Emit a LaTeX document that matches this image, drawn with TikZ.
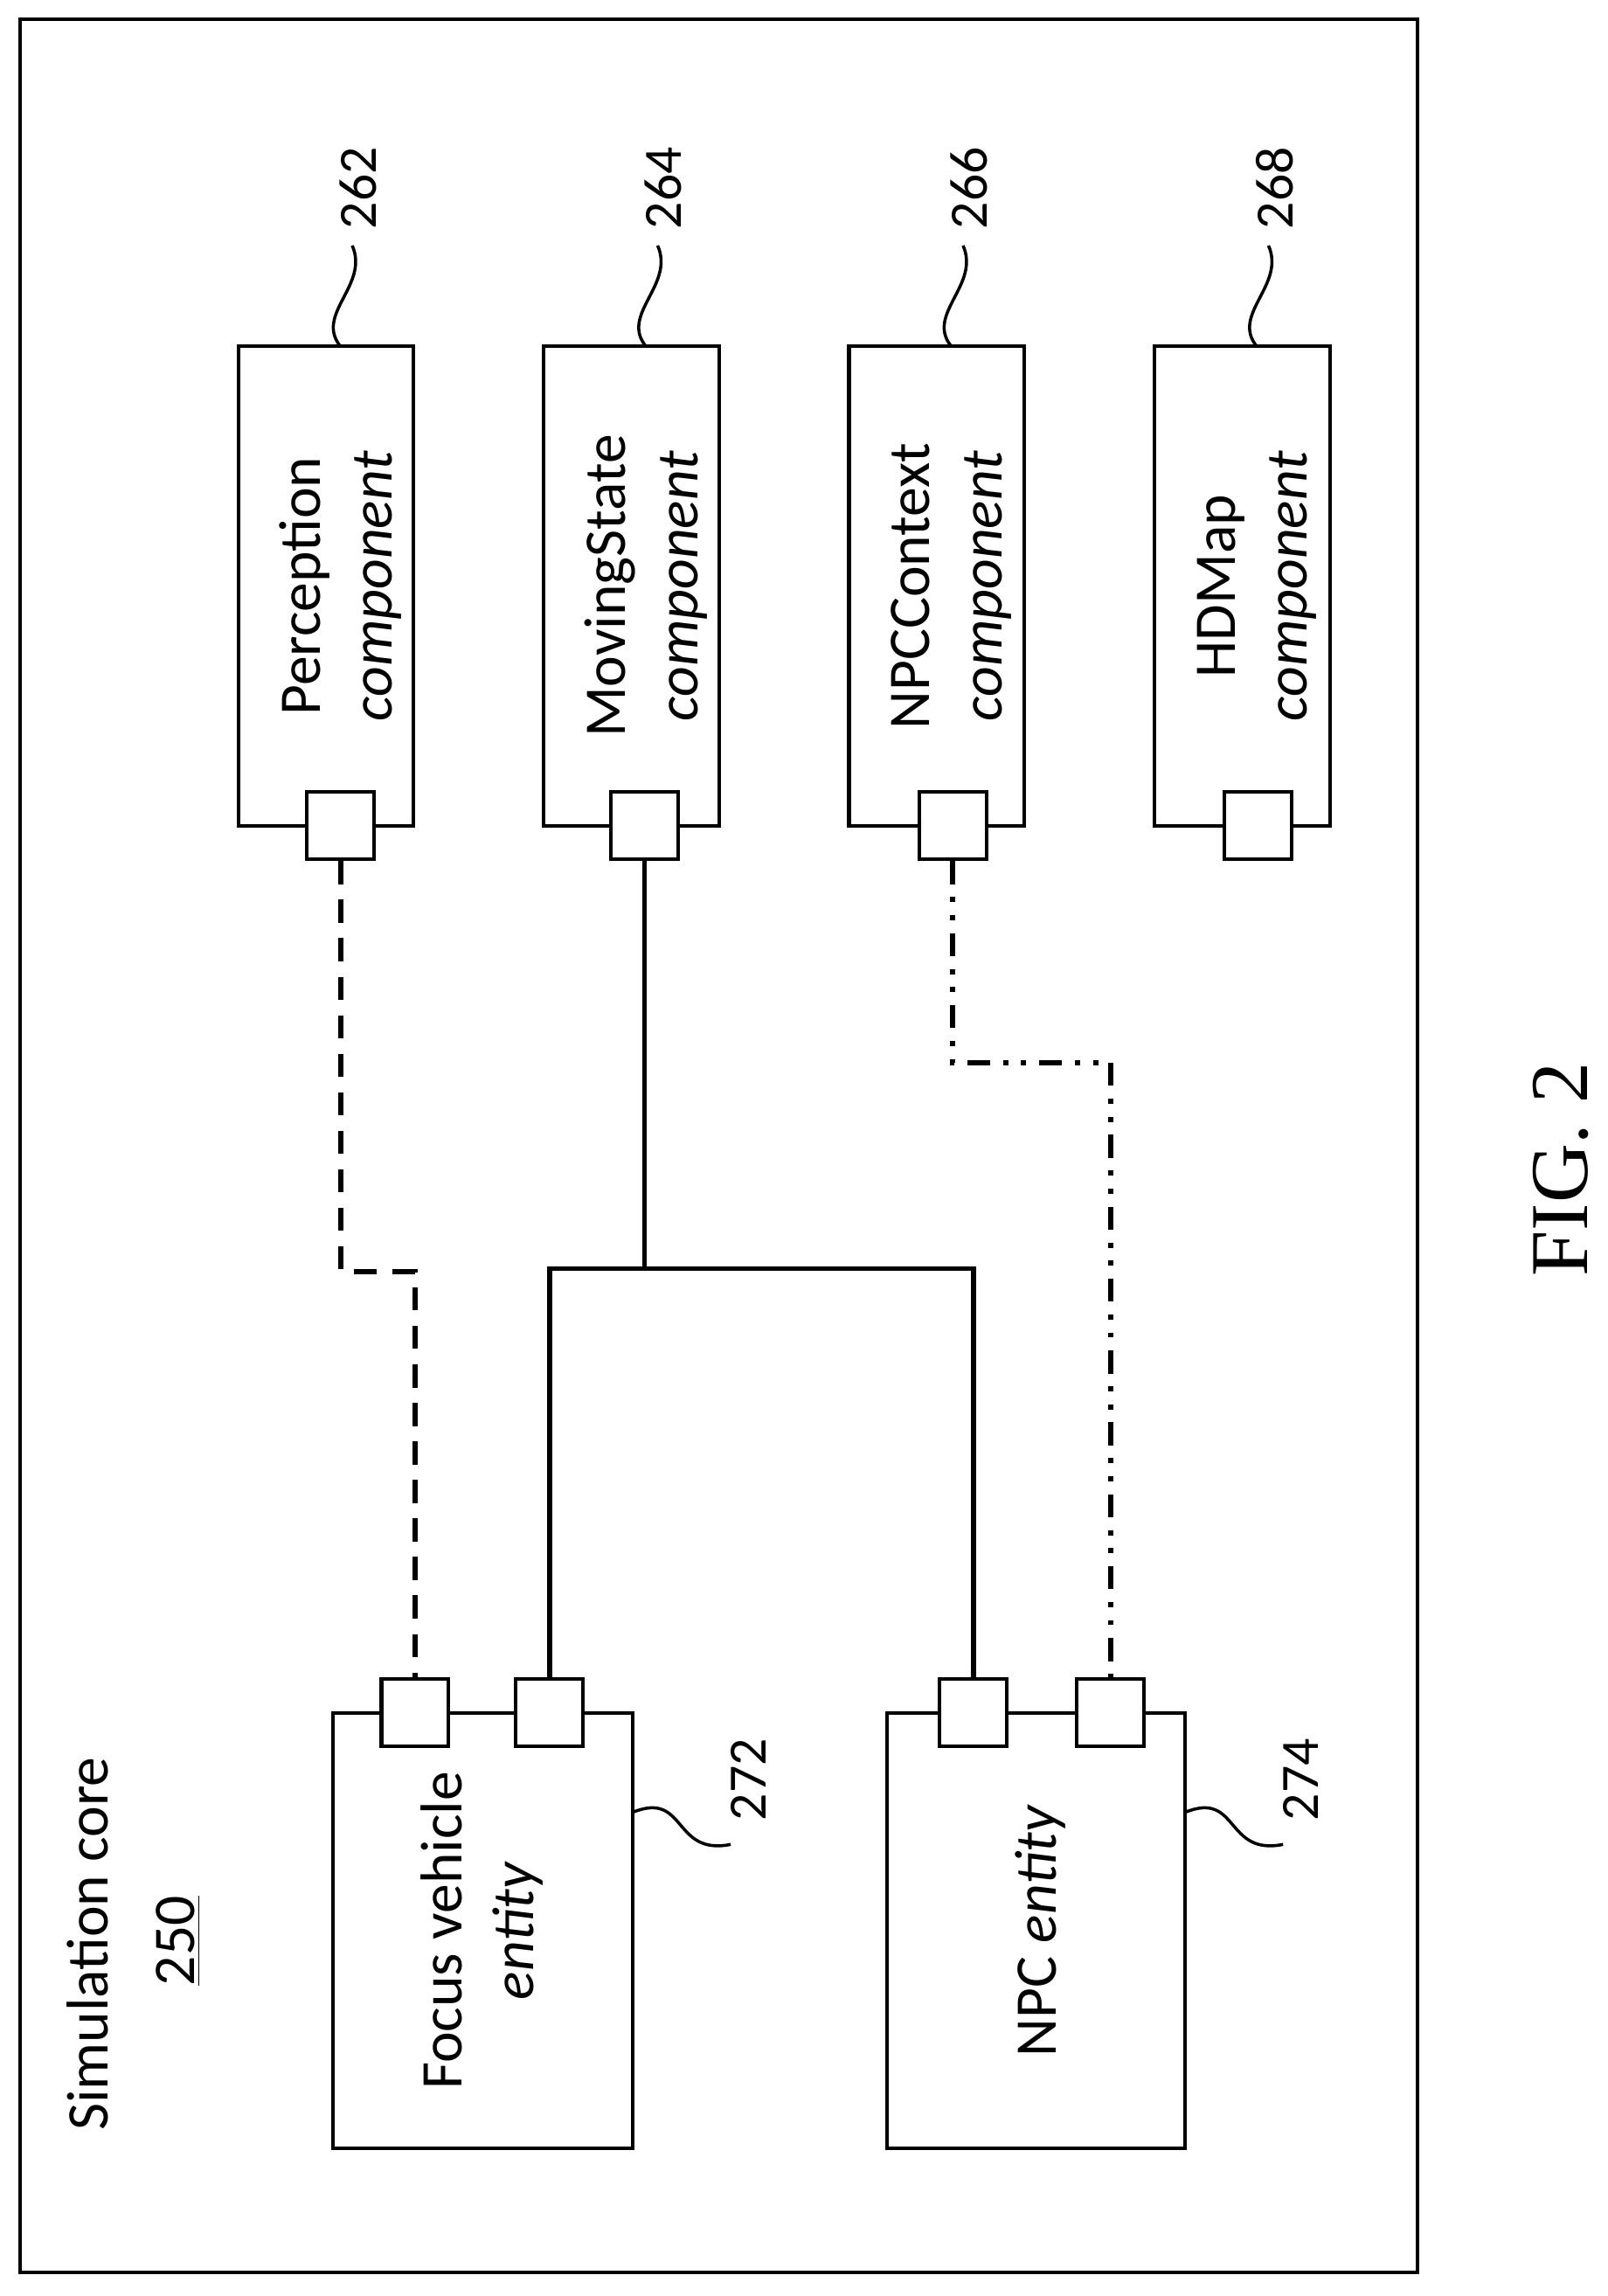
\documentclass[tikz,border=0pt]{standalone}
\usepackage{fontspec}
\setmainfont{Carlito}
\newfontfamily\figfont{Liberation Serif}
\begin{document}
\begin{tikzpicture}[x=0.02cm,y=-0.02cm,
  box/.style={draw,line width=1.4pt,minimum width=0pt,inner sep=0},
  sq/.style={draw,line width=1.4pt,fill=white,minimum size=46*0.02cm,inner sep=0},
  txt/.style={rotate=90,align=center,font=\fontsize{23}{28}\selectfont},
  num/.style={rotate=90,font=\fontsize{21}{24}\selectfont},
  ln/.style={line width=2pt}]
\useasboundingbox (0,0) rectangle (1100,1571);
\draw[line width=1.4pt] (14,13) rectangle (970,1555);
% component boxes
\foreach \n/\x/\a/\num in {per/223/Perception/262,mov/432/MovingState/264,npcc/641/NPCContext/266,hd/850/HDMap/268}{
  \node[box,minimum width=120*0.02cm,minimum height=328*0.02cm] (\n) at (\x,401) {};
  \node[txt] (\n t) at (\x+10,401) {\a\\\textit{component}};
  \draw[line width=1.2pt] (\x+10,237) .. controls (\x-8,215) and (\x+30,195) .. (\x+18,168) coordinate (\n c);
  \node[num,anchor=west] (\n n) at (\x+22,163) {\num};
}
\node[sq] (sper) at (233,565) {};
\node[sq] (smov) at (441,565) {};
\node[sq] (snpcc) at (652,565) {};
\node[sq] (shd) at (861,565) {};
% entities
\node[box,minimum width=205*0.02cm,minimum height=298*0.02cm] (fv) at (330.5,1321) {};
\node[box,minimum width=204*0.02cm,minimum height=298*0.02cm] (npc) at (709,1321) {};
\node[txt] (fvt) at (330,1321) {Focus vehicle\\\textit{entity}};
\node[txt] (npct) at (712,1321) {NPC \textit{entity}};
\node[sq] (fv1) at (284,1172) {};
\node[sq] (fv2) at (376,1172) {};
\node[sq] (np1) at (666,1172) {};
\node[sq] (np2) at (760,1172) {};
\draw[line width=1.2pt] (433,1240) .. controls (470,1225) and (460,1270) .. (500,1262);
\node[num,anchor=west] (n272) at (512,1252) {272};
\draw[line width=1.2pt] (811,1240) .. controls (848,1225) and (838,1270) .. (878,1262);
\node[num,anchor=west] (n274) at (890,1252) {274};
% connectors
\coordinate (j) at (441,868);
\draw[ln,dash pattern=on 9pt off 6pt] (sper.south) |- (284,870) -- (fv1.north);
\draw[ln] (smov.south) -- (j);
\draw[ln] (fv2.north) |- (j) -| (np1.north);
\draw[ln,dash pattern=on 9pt off 5pt on 2pt off 5pt on 2pt off 5pt] (snpcc.south) |- (760,727) -- (np2.north);
% titles
\node[txt,anchor=center] (sim) at (60,1330) {Simulation core};
\node[txt] (n250) at (122,1328) {\underline{250}};
\node[rotate=90,font=\figfont\fontsize{32}{36}\selectfont] (fig) at (1068,800) {FIG. 2};
\end{tikzpicture}
\end{document}
